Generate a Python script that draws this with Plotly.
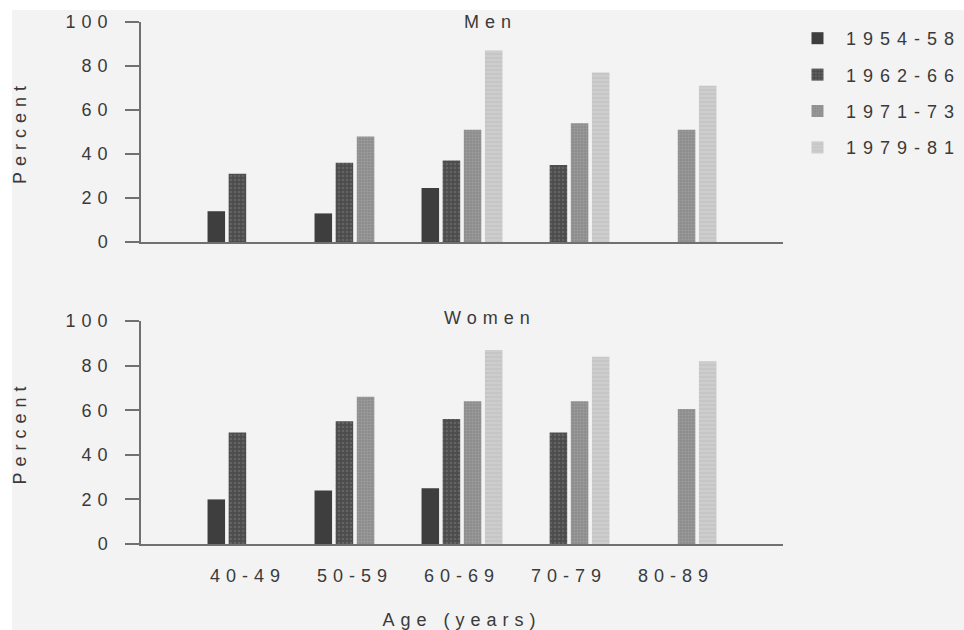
import plotly.graph_objects as go

ages = ["40-49", "50-59", "60-69", "70-79", "80-89"]
periods = ["1954-58", "1962-66", "1971-73", "1979-81"]

men_1954 = [14, 13, 24.5, None, None]
men_1962 = [31, 36, 37, 35, None]
men_1971 = [None, 48, 51, 54, 51]
men_1979 = [None, None, 87, 77, 71]

women_1954 = [20, 24, 25, None, None]
women_1962 = [50, 55, 56, 50, None]
women_1971 = [None, 66, 64, 64, 60.5]
women_1979 = [None, None, 87, 84, 82]

y_ticks = [0, 20, 40, 60, 80, 100]

colors = ["#3e3e3e", "#575757", "#989898", "#cccccc"]
patterns = [
    dict(shape=""),
    dict(shape=".", fgcolor="#7a7a7a", bgcolor="#4c4c4c", size=4, solidity=0.35),
    dict(shape=".", fgcolor="#b0b0b0", bgcolor="#8c8c8c", size=3, solidity=0.4),
    dict(shape="-", fgcolor="#d8d8d8", bgcolor="#c6c6c6", size=4, solidity=0.4),
]

men = [men_1954, men_1962, men_1971, men_1979]
women = [women_1954, women_1962, women_1971, women_1979]

FONT = "Liberation Sans, Arial, Helvetica, sans-serif"
TXT = "#3a3a3a"
AX = "#707070"

fig = go.Figure()
for i, p in enumerate(periods):
    fig.add_trace(go.Bar(
        x=ages, y=men[i], name=p, legendgroup=p, showlegend=True,
        marker=dict(color=colors[i], line=dict(width=0), pattern=patterns[i]),
        xaxis="x", yaxis="y",
    ))
for i, p in enumerate(periods):
    fig.add_trace(go.Bar(
        x=ages, y=women[i], name=p, legendgroup=p, showlegend=False,
        marker=dict(color=colors[i], line=dict(width=0), pattern=patterns[i]),
        xaxis="x2", yaxis="y2",
    ))

yax = dict(
    range=[0, 100], tickvals=y_ticks, ticks="outside", ticklen=14, tickwidth=1.5,
    tickcolor=AX, showline=True, linecolor=AX, linewidth=1.5, showgrid=False,
    zeroline=False, tickfont=dict(family=FONT, size=18, color=TXT),
    ticklabelstandoff=8, automargin=False,
    title=dict(text="Percent", font=dict(family=FONT, size=18, color=TXT), standoff=52),
    fixedrange=True,
)
xax = dict(
    type="category", range=[-1, 5], showline=True, linecolor=AX, linewidth=2,
    ticks="", showgrid=False, zeroline=False, automargin=False,
    tickfont=dict(family=FONT, size=18, color=TXT), fixedrange=True,
)

W_PLOT = 642
H_PAPER = 522

fig.update_layout(
    width=964, height=630,
    margin=dict(l=141, r=181, t=22, b=86, autoexpand=False),
    paper_bgcolor="#ffffff", plot_bgcolor="rgba(0,0,0,0)",
    barmode="group", bargap=0.21, bargroupgap=0.17,
    font=dict(family=FONT, size=18, color=TXT),
    xaxis=dict(xax, anchor="y", showticklabels=False),
    yaxis=dict(yax, domain=[0.5785, 1.0], anchor="x"),
    xaxis2=dict(xax, anchor="y2", showticklabels=True, ticklabelstandoff=14,
                title=dict(text="Age (years)", font=dict(family=FONT, size=18, color=TXT), standoff=39)),
    yaxis2=dict(yax, domain=[0.0, 0.4272], anchor="x2"),
    legend=dict(
        x=(789 - 141) / W_PLOT, xanchor="left", xref="paper",
        y=(546 - 22) / H_PAPER, yanchor="top",
        font=dict(family=FONT, size=18, color=TXT), tracegroupgap=10,
        traceorder="grouped", itemwidth=47, bgcolor="rgba(0,0,0,0)",
    ),
    annotations=[
        dict(text="Men", xref="paper", yref="paper",
             x=(490 - 141) / W_PLOT, y=(544 - 22) / H_PAPER, showarrow=False,
             font=dict(family=FONT, size=18, color=TXT), xanchor="center", yanchor="middle"),
        dict(text="Women", xref="paper", yref="paper",
             x=(490 - 141) / W_PLOT, y=(544 - 318) / H_PAPER, showarrow=False,
             font=dict(family=FONT, size=18, color=TXT), xanchor="center", yanchor="middle"),
    ],
    shapes=[
        dict(type="rect", xref="paper", yref="paper",
             x0=(12 - 141) / W_PLOT, x1=(964 - 141) / W_PLOT,
             y0=(544 - 630) / H_PAPER, y1=(544 - 10) / H_PAPER,
             fillcolor="#f3f3f3", line=dict(width=0), layer="below"),
    ],
)

post = """
document.body.style.margin = '0';
document.body.style.padding = '0';
var gd = document.getElementById('{plot_id}');
gd.querySelectorAll('text').forEach(function(t){ t.style.letterSpacing = '6px'; });
gd.querySelectorAll('.xtick text').forEach(function(t){ t.style.letterSpacing = '10px'; });
gd.querySelectorAll('.legend [clip-path]').forEach(function(e){ e.removeAttribute('clip-path'); });
gd.querySelectorAll('.legend text').forEach(function(t){ t.style.letterSpacing = '7px'; });
"""
fig.write_html("out.html", post_script=post, config={"displayModeBar": False})
